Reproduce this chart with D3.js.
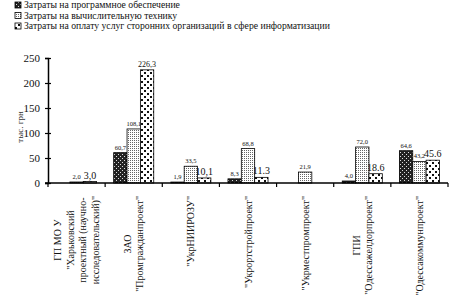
<!DOCTYPE html>
<html>
<head>
<meta charset="utf-8">
<script src="https://cdn.jsdelivr.net/npm/d3@7"></script>
<style>
  body { margin: 0; background: #fff; }
</style>
</head>
<body>
<svg width="462" height="295"></svg>
<script>
// categories, one array of lines per organisation
const categories = [
    ["ГП МО У", "\"Харьковский", "проектный (научно-", "исследовательский)\""],
    ["ЗАО", "\"Промгражданпроект\""],
    ["\"УкрНИИРОЗУ\""],
    ["\"Укрортстройпроект\""],
    ["\"Укрместпромпроект\""],
    ["ГПИ", "\"Одессажелдорпроект\""],
    ["\"Одессакоммунпроект\""]
];

const seriesNames = [
    "Затраты на программное обеспечение",
    "Затраты на вычислительную технику",
    "Затраты на оплату услуг сторонних организаций в сфере информатизации"
];

// values, thousand UAH (null = no bar)
const software = [null, 60.7, 1.9, 8.3, null, 4.0, 64.6];
const hardware = [2.0, 108.1, 33.5, 68.8, 21.9, 72.0, 43.2];
const services = [3.0, 226.3, 10.1, 11.3, null, 18.6, 45.6];

// value labels as printed on the chart
const softwareLabels = ["", "60,7", "1,9", "8,3", "", "4,0", "64,6"];
const hardwareLabels = ["2,0", "108,1", "33,5", "68,8", "21,9", "72,0", "43,2"];
const servicesLabels = ["3,0", "226,3", "10,1", "11.3", "", "18.6", "45.6"];

const yTicks = [0, 50, 100, 150, 200, 250];
const yTitle = "тыс. грн";

const seriesValues = [software, hardware, services];
const seriesLabels = [softwareLabels, hardwareLabels, servicesLabels];

const font = "Liberation Serif";
const ink = "#111";

const svg = d3.select("svg");
svg.append("rect").attr("width", 462).attr("height", 295).attr("fill", "#fff");

// patterns
const defs = svg.append("defs");
function makePattern(id, size, bg, fg, dots, dot) {
    let p = defs.append("pattern").attr("id", id).attr("patternUnits", "userSpaceOnUse")
        .attr("width", size).attr("height", size);
    p.append("rect").attr("width", size).attr("height", size).attr("fill", bg);
    dots.forEach(d => p.append("rect").attr("x", d[0]).attr("y", d[1])
        .attr("width", dot).attr("height", dot).attr("fill", fg));
}
makePattern("pat0", 4, "#222", "#ddd", [[0, 0], [2, 2]], 1);
makePattern("pat1", 2, "#ffffff", "#666", [[0, 0]], 1);
makePattern("pat2", 6, "#ffffff", "#111", [[0, 0], [3, 3]], 2);
const fills = ["url(#pat0)", "url(#pat1)", "url(#pat2)"];

const x0 = d3.scaleBand().domain(d3.range(categories.length)).range([48, 448]).padding(0);
const x1 = d3.scaleBand().domain([0, 1, 2]).range([0, x0.bandwidth()]).paddingInner(0).paddingOuter(0.64);
const y = d3.scaleLinear().domain([0, 250]).range([183, 58]);

// bars
seriesValues.forEach((vals, s) => {
    let g = svg.append("g");
    vals.forEach((v, i) => {
        if (v === null) return;
        g.append("rect")
            .attr("x", x0(i) + x1(s))
            .attr("y", y(v))
            .attr("width", x1.bandwidth())
            .attr("height", y(0) - y(v))
            .attr("fill", fills[s])
            .attr("stroke", "#000")
            .attr("stroke-width", 0.8);
        let lab = seriesLabels[s][i];
        if (lab) {
            g.append("text")
                .attr("x", x0(i) + x1(s) + x1.bandwidth() / 2)
                .attr("y", y(v) - 3)
                .attr("text-anchor", "middle")
                .attr("font-family", font)
                .attr("fill", ink)
                .attr("font-size", s === 2 ? (v > 200 ? 8 : 10) : 6.5)
                .text(lab);
        }
    });
});

// y axis
const yAxis = svg.append("g").attr("transform", "translate(48,0)")
    .call(d3.axisLeft(y).tickValues(yTicks).tickSize(3).tickPadding(5));
yAxis.select(".domain").attr("stroke", "#000").attr("stroke-width", 1.5);
yAxis.selectAll(".tick line").attr("x2", 3).attr("x1", -3).attr("stroke-width", 1.2);
yAxis.selectAll(".tick text").attr("font-size", 11).attr("font-family", font).attr("fill", ink);

svg.append("text")
    .attr("transform", "translate(23,127) rotate(-90)")
    .attr("text-anchor", "middle")
    .attr("font-family", font)
    .attr("fill", "#333")
    .attr("font-size", 9)
    .text(yTitle);

// x axis
svg.append("line").attr("x1", 45).attr("x2", 448).attr("y1", y(0)).attr("y2", y(0))
    .attr("stroke", "#000").attr("stroke-width", 1.5);
svg.append("g").selectAll("line")
    .data(d3.range(categories.length + 1)).enter().append("line")
    .attr("x1", d => 48 + d * x0.step()).attr("x2", d => 48 + d * x0.step())
    .attr("y1", y(0)).attr("y2", y(0) + 4)
    .attr("stroke", "#000").attr("stroke-width", 1.2);

// category labels
const lineGap = 12.5;
categories.forEach((lines, i) => {
    let cx = x0(i) + x0.bandwidth() / 2;
    let g = svg.append("g");
    let texts = lines.map(t => g.append("text")
        .attr("font-size", 10)
        .attr("font-family", font)
        .attr("fill", ink)
        .attr("text-anchor", "middle")
        .text(t));
    let maxLen = d3.max(texts, t => t.node().getComputedTextLength());
    let cy = 196 + maxLen / 2;
    texts.forEach((t, k) => {
        let lx = cx + (k - (lines.length - 1) / 2) * lineGap + 3.5;
        t.attr("transform", "translate(" + lx + "," + cy + ") rotate(-90)");
    });
});

// legend
const legend = svg.append("g");
seriesNames.forEach((name, s) => {
    let ly = 5 + s * 10.5;
    legend.append("rect").attr("x", 15).attr("y", ly - 3).attr("width", 6).attr("height", 6)
        .attr("fill", fills[s]).attr("stroke", "#000").attr("stroke-width", 0.8);
    legend.append("text").attr("x", 24).attr("y", ly + 3)
        .attr("font-family", font).attr("fill", ink)
        .attr("font-size", 9.7).text(name);
});
</script>
</body>
</html>
